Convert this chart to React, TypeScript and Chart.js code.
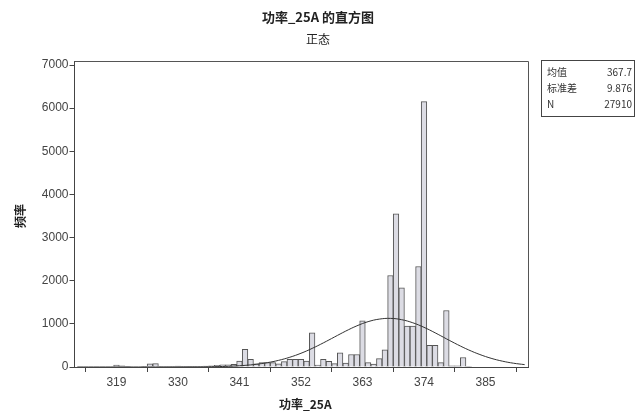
import React, { useEffect, useRef } from 'react';
import { Chart, registerables } from 'chart.js';

Chart.register(...registerables);

// ---- data ----
const BIN_CENTERS = [
  312, 313, 314, 315, 316, 317, 318, 319, 320, 321, 322, 323, 324, 325, 326, 327, 328, 329,
  330, 331, 332, 333, 334, 335, 336, 337, 338, 339, 340, 341, 342, 343, 344, 345, 346, 347,
  348, 349, 350, 351, 352, 353, 354, 355, 356, 357, 358, 359, 360, 361, 362, 363, 364, 365,
  366, 367, 368, 369, 370, 371, 372, 373, 374, 375, 376, 377, 378, 379, 380, 381, 382, 383,
];
const BIN_COUNTS = [
  0, 0, 0, 0, 0, 0, 0, 45, 25, 5, 0, 0, 10, 75, 80, 10, 5, 5,
  20, 15, 10, 10, 15, 20, 30, 40, 50, 50, 60, 140, 410, 180, 75, 100, 100, 100,
  75, 125, 180, 180, 180, 140, 790, 45, 180, 130, 80, 330, 90, 290, 290, 1070, 100, 70,
  195, 400, 2120, 3550, 1835, 950, 950, 2330, 6150, 500, 500, 100, 1310, 30, 30, 220, 5, 0,
];
const CURVE_X = [
  312, 316, 320, 324, 326, 328, 330, 332, 334, 336, 338, 340, 342, 344, 346, 348, 350, 352,
  354, 356, 358, 360, 362, 364, 366, 368, 370, 372, 374, 376, 378, 380, 382, 384, 386, 388,
  390, 392,
];
const CURVE_Y = [
  0, 0, 0, 0, 0, 0, 1, 2, 3, 7, 12, 22, 38, 63, 101, 154, 226, 318,
  431, 559, 696, 832, 954, 1051, 1110, 1127, 1097, 1025, 920, 792, 654, 519, 395, 289, 202, 136,
  88, 55,
];
const X_TICKS = [319, 330, 341, 352, 363, 374, 385];
const Y_TICKS = [0, 1000, 2000, 3000, 4000, 5000, 6000, 7000];
const TITLE = '功率_25A 的直方图';
const SUBTITLE = '正态';
const X_TITLE = '功率_25A';
const Y_TITLE = '频率';
const STAT_LABELS = ['均值', '标准差', 'N'];
const STAT_VALUES = ['367.7', '9.876', '27910'];

const FONT = '"Liberation Sans", "Noto Sans CJK SC", sans-serif';
const CJK = '"Noto Sans CJK SC", "Liberation Sans", sans-serif';

const decor = {
  id: 'decor',
  afterDraw(chart: any) {
    const { ctx, chartArea: a } = chart;
    ctx.save();
    // frame top and right
    ctx.strokeStyle = '#555';
    ctx.lineWidth = 1;
    ctx.beginPath();
    ctx.moveTo(a.left, Math.round(a.top) + 0.5);
    ctx.lineTo(Math.round(a.right) + 0.5, Math.round(a.top) + 0.5);
    ctx.lineTo(Math.round(a.right) + 0.5, a.bottom);
    ctx.stroke();

    const cx = (a.left + a.right) / 2;
    ctx.fillStyle = '#222';
    ctx.textAlign = 'center';
    ctx.textBaseline = 'middle';
    ctx.font = `bold 13px ${CJK}`;
    ctx.fillText(TITLE, 318, 17);
    ctx.font = `12px ${CJK}`;
    ctx.fillText(SUBTITLE, 318, 39);

    ctx.font = `bold 12px ${CJK}`;
    ctx.fillText(X_TITLE, cx + 4, 404);
    ctx.save();
    ctx.translate(20, (a.top + a.bottom) / 2 + 2);
    ctx.rotate(-Math.PI / 2);
    ctx.fillText(Y_TITLE, 0, 0);
    ctx.restore();

    // statistics box
    const bx = 541.5, by = 60.5, bw = 93, bh = 56;
    ctx.strokeStyle = '#444';
    ctx.strokeRect(bx, by, bw, bh);
    ctx.font = `10px ${CJK}`;
    ctx.fillStyle = '#333';
    const rows = [72, 88, 104];
    STAT_LABELS.forEach((lab, i) => {
      ctx.textAlign = 'left';
      ctx.fillText(lab, 547, rows[i]);
      ctx.textAlign = 'right';
      ctx.fillText(STAT_VALUES[i], 632, rows[i]);
    });
    ctx.restore();
  },
};

export default function App() {
  const ref = useRef<HTMLCanvasElement | null>(null);
  useEffect(() => {
    if (!ref.current) return;
    const chart = new Chart(ref.current, {
      type: 'bar',
      data: {
        datasets: [
          {
            type: 'line',
            data: CURVE_X.map((x, i) => ({ x, y: CURVE_Y[i] })),
            borderColor: '#333',
            borderWidth: 1,
            pointRadius: 0,
            tension: 0.4,
            fill: false,
            order: 0,
          } as any,
          {
            type: 'bar',
            data: BIN_CENTERS.map((x, i) => ({ x, y: BIN_COUNTS[i] })),
            backgroundColor: '#dcdce4',
            borderColor: '#555',
            borderWidth: 1,
            categoryPercentage: 1,
            barPercentage: 1,
            order: 1,
          } as any,
        ],
      },
      options: {
        responsive: false,
        animation: false,
        layout: { padding: { left: 0, top: 61, right: 107, bottom: 0 } },
        plugins: {
          legend: { display: false },
          tooltip: { enabled: false },
          title: { display: false },
        },
        scales: {
          x: {
            type: 'linear',
            min: 311.5,
            max: 392.6,
            offset: false,
            afterBuildTicks: (s: any) => {
              s.ticks = X_TICKS.map((v) => ({ value: v }));
            },
            afterFit: (s: any) => {
              s.height = 46;
            },
            grid: { drawOnChartArea: false, drawTicks: true, tickLength: 5, tickColor: '#444' },
            border: { display: true, color: '#444', width: 1 },
            ticks: {
              padding: 3,
              maxRotation: 0,
              autoSkip: false,
              color: '#444',
              font: { family: FONT, size: 12 },
              callback: (v: any) => String(v),
            },
          },
          y: {
            type: 'linear',
            min: 0,
            max: 7093,
            afterBuildTicks: (s: any) => {
              s.ticks = Y_TICKS.map((v) => ({ value: v }));
            },
            afterFit: (s: any) => {
              s.width = 74.5;
            },
            grid: { drawOnChartArea: false, drawTicks: true, tickLength: 5, tickColor: '#444' },
            border: { display: true, color: '#444', width: 1 },
            ticks: {
              padding: 1,
              color: '#444',
              font: { family: FONT, size: 12 },
              callback: (v: any) => String(v),
            },
          },
        },
      } as any,
      plugins: [decor],
    });
    return () => chart.destroy();
  }, []);
  return (
    <div style={{ position: 'fixed', left: 0, top: 0, width: 635, height: 413, background: '#fff' }}>
      <canvas ref={ref} width={635} height={413} style={{ display: 'block' }} />
    </div>
  );
}
